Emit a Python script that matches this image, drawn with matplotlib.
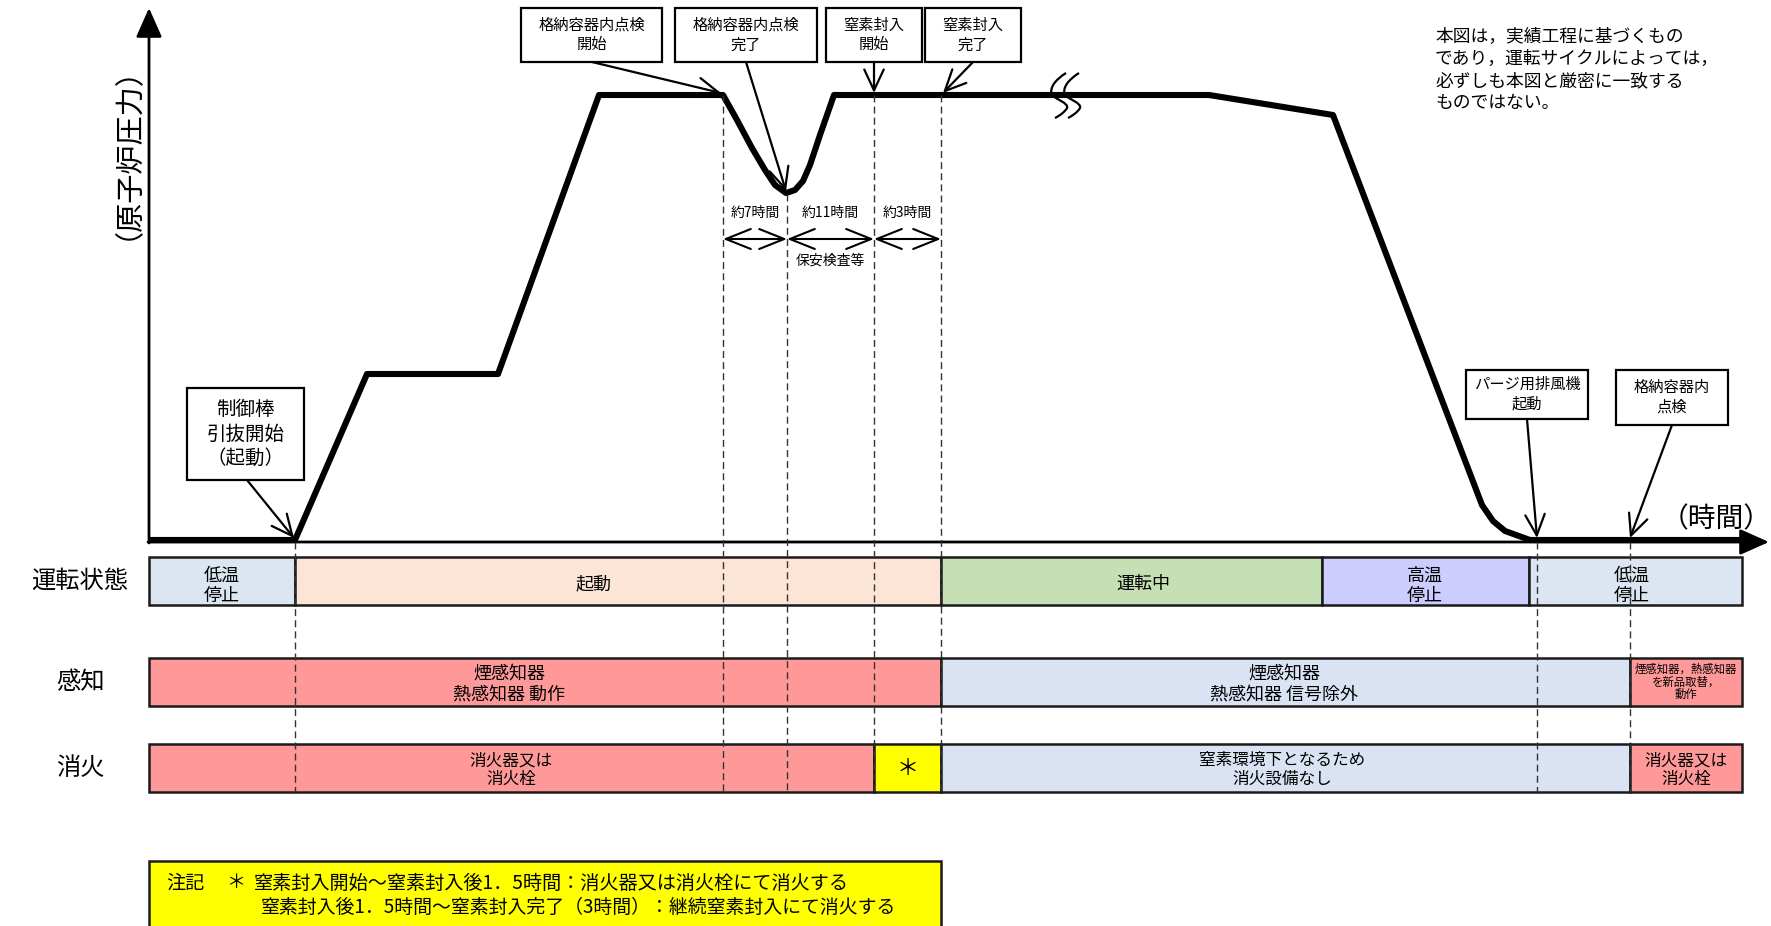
import matplotlib
matplotlib.use('Agg')
import matplotlib.pyplot as plt
from matplotlib.patches import Rectangle, PathPatch
from matplotlib.path import Path

plt.rcParams['font.family'] = ['Noto Sans CJK JP', 'DejaVu Sans']

# ---------------- data ----------------
# Reactor-pressure curve (time units along x, pressure drawn downward in figure units)
pressure_time = [149, 295, 367, 498, 599, 723, 737, 752, 765, 775, 786, 795, 803, 810, 820, 834,
                 1209, 1333, 1482, 1493, 1505, 1530, 1740]
pressure_val = [540, 540, 374, 374, 95, 95, 120, 148, 170, 185, 193, 190, 181, 165, 135, 95,
                95, 115, 505, 521, 531, 540, 540]

# Event times (dashed guide lines)
event_time = [295, 723, 787, 874, 941, 1537, 1630]
event_top = [542, 95, 194, 95, 95, 542, 542]

# Row 1: operating state
status_edges = [149, 295, 941, 1322, 1529, 1742]
status_labels = ['低温\n停止', '起動', '運転中', '高温\n停止', '低温\n停止']
status_colors = ['#DCE6F2', '#FCE4D6', '#C5E0B4', '#CCCCFF', '#DCE6F2']

# Row 2: detection
detect_edges = [149, 941, 1630, 1742]
detect_labels = ['煙感知器\n熱感知器 動作', '煙感知器\n熱感知器 信号除外', '煙感知器，熱感知器\nを新品取替，\n動作']
detect_colors = ['#FF9999', '#DAE3F3', '#FF9999']

# Row 3: fire extinguishing
ext_edges = [149, 874, 941, 1630, 1742]
ext_labels = ['消火器又は\n消火栓', '＊', '窒素環境下となるため\n消火設備なし', '消火器又は\n消火栓']
ext_colors = ['#FF9999', '#FFFF00', '#DAE3F3', '#FF9999']

row_names = ['運転状態', '感知', '消火']

duration_labels = ['約7時間', '約11時間', '約3時間']
duration_edges = [723, 787, 874, 941]

# ---------------- layout ----------------
W, H = 1771, 926
fig = plt.figure(figsize=(W / 100, H / 100), dpi=100)
ax = fig.add_axes([0, 0, 1, 1])
ax.set_xlim(0, W)
ax.set_ylim(H, 0)
ax.axis('off')

row_y = [(557, 605), (658, 706), (744, 792)]
AX_X, AX_Y = 149, 542

# axes arrows
ax.annotate('', xy=(AX_X, 8), xytext=(AX_X, AX_Y + 1),
            arrowprops=dict(arrowstyle='-|>,head_length=0.9,head_width=0.4', lw=2, color='black',
                            mutation_scale=20, shrinkA=0, shrinkB=0))
ax.annotate('', xy=(1769, AX_Y), xytext=(AX_X - 1, AX_Y),
            arrowprops=dict(arrowstyle='-|>,head_length=0.9,head_width=0.4', lw=2, color='black',
                            mutation_scale=20, shrinkA=0, shrinkB=0))
ax.text(113, 138, '（原子炉圧力）', rotation=90, ha='center', va='center', fontsize=21)
ax.text(1716, 519, '（時間）', ha='center', va='center', fontsize=20)

# pressure curve
ax.plot(pressure_time, pressure_val, color='black', lw=4.4, solid_joinstyle='round',
        solid_capstyle='butt', zorder=5)

# break mark
for dx in (0, -13):
    verts = [(1079 + dx, 73), (1068 + dx, 80), (1062 + dx, 88), (1065 + dx, 95),
             (1068 + dx, 99), (1082 + dx, 103), (1080 + dx, 108),
             (1078 + dx, 112), (1072 + dx, 116), (1068 + dx, 118)]
    codes = [Path.MOVETO] + [Path.CURVE4] * 9
    ax.add_patch(PathPatch(Path(verts, codes), fill=False, lw=1.6, color='black', zorder=6))

# dashed guide lines
for x, top in zip(event_time, event_top):
    ax.plot([x, x], [top, row_y[2][1]], color='#333333', lw=1, ls=(0, (5, 3)), zorder=8)

# rows
def draw_row(edges, labels, colors, y0, y1, fontsizes, label_x, label_dy=None):
    for i, (lab, col) in enumerate(zip(labels, colors)):
        x0, x1 = edges[i], edges[i + 1]
        ax.add_patch(Rectangle((x0, y0), x1 - x0, y1 - y0, facecolor=col, edgecolor='#1a1a1a',
                               lw=1.8, zorder=3))
        dy = label_dy[i] if label_dy else 0
        ax.text(label_x[i], (y0 + y1) / 2 + dy, lab, ha='center', va='center',
                fontsize=fontsizes[i], linespacing=1.15, zorder=4)

draw_row(status_edges, status_labels, status_colors, *row_y[0], [13, 13, 13, 13, 13],
         label_x=[222, 594, 1143, 1425, 1632], label_dy=[5, 3, 3, 5, 5])
draw_row(detect_edges, detect_labels, detect_colors, *row_y[1], [13, 13, 8.2],
         label_x=[509, 1284, 1686], label_dy=[2, 2, 0])
draw_row(ext_edges, ext_labels, ext_colors, *row_y[2], [12, 16, 12, 12],
         label_x=[511, 907.5, 1282, 1686], label_dy=[2, 0, 2, 2])

for name, (y0, y1) in zip(row_names, row_y):
    ax.text(80, (y0 + y1) / 2, name, ha='center', va='center', fontsize=17.5)

# annotation boxes with arrows
boxes = [
    ('制御棒\n引抜開始\n（起動）', (187, 388, 304, 480), (247, 480), (294, 538), 14),
    ('格納容器内点検\n開始', (521, 8, 662, 62), (592, 62), (721, 93), 11),
    ('格納容器内点検\n完了', (675, 8, 817, 62), (746, 62), (786, 191), 11),
    ('窒素封入\n開始', (826, 8, 922, 62), (874, 62), (874, 93), 11),
    ('窒素封入\n完了', (925, 8, 1021, 62), (973, 62), (943, 93), 11),
    ('パージ用排風機\n起動', (1466, 370, 1588, 419), (1527, 419), (1537, 538), 11),
    ('格納容器内\n点検', (1616, 370, 1728, 425), (1672, 425), (1630, 538), 11),
]
for txt, (x0, y0, x1, y1), tail, tip, fs in boxes:
    ax.add_patch(Rectangle((x0, y0), x1 - x0, y1 - y0, facecolor='white', edgecolor='black',
                           lw=1.6, zorder=7))
    ax.text((x0 + x1) / 2, (y0 + y1) / 2, txt, ha='center', va='center', fontsize=fs,
            linespacing=1.2, zorder=8)
    ax.annotate('', xy=tip, xytext=tail,
                arrowprops=dict(arrowstyle='->,head_length=0.75,head_width=0.35', lw=1.6,
                                color='black', mutation_scale=20, shrinkA=0, shrinkB=0), zorder=9)

# duration arrows
for i, lab in enumerate(duration_labels):
    a, b = duration_edges[i], duration_edges[i + 1]
    ax.annotate('', xy=(b, 239), xytext=(a, 239),
                arrowprops=dict(arrowstyle='<->,head_length=0.9,head_width=0.36', lw=1.5,
                                color='black', mutation_scale=20, shrinkA=0, shrinkB=0))
    ax.text((a + b) / 2, 213, lab, ha='center', va='center', fontsize=10)
ax.text((duration_edges[1] + duration_edges[2]) / 2, 261, '保安検査等', ha='center', va='center',
        fontsize=10)

# top-right remark
ax.text(1435, 70, '本図は，実績工程に基づくもの\nであり，運転サイクルによっては，\n必ずしも本図と厳密に一致する\nものではない。',
        ha='left', va='center', fontsize=12.8, linespacing=1.3)

# bottom note
ax.add_patch(Rectangle((149, 861), 941 - 149, 80, facecolor='#FFFF00', edgecolor='#1a1a1a',
                       lw=1.8, zorder=3))
ax.text(166, 883, '注記', ha='left', va='center', fontsize=13.8, zorder=4)
ax.text(226, 883, '＊', ha='left', va='center', fontsize=13.8, zorder=4)
ax.text(254, 883, '窒素封入開始～窒素封入後1．5時間：消火器又は消火栓にて消火する', ha='left',
        va='center', fontsize=13.8, zorder=4)
ax.text(261, 907, '窒素封入後1．5時間～窒素封入完了（3時間）：継続窒素封入にて消火する', ha='left',
        va='center', fontsize=13.6, zorder=4)

fig.savefig('out.png', dpi=100)
